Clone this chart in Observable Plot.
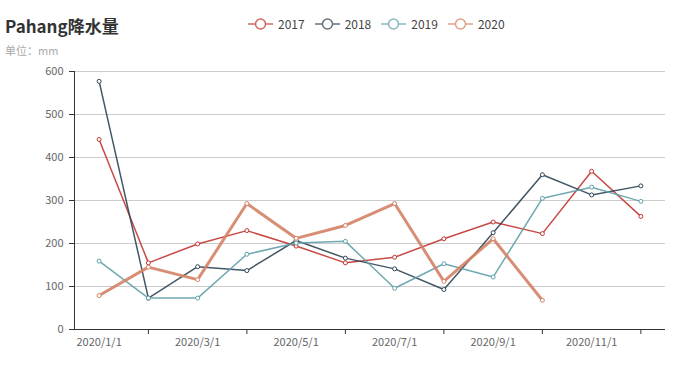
<!DOCTYPE html>
<html>
<head>
<meta charset="utf-8">
<script src="https://cdn.jsdelivr.net/npm/d3@7"></script>
<script src="https://cdn.jsdelivr.net/npm/@observablehq/plot@0.6"></script>
<style>
  body { margin: 0; background: #fff; font-family: "Noto Sans CJK SC", "Open Sans", sans-serif; }
  #wrap { position: relative; width: 688px; height: 366px; }
  #title { position: absolute; left: 5px; top: 13px; font-size: 17px; font-weight: bold; color: #333; }
  #sub { position: absolute; left: 5px; top: 42px; font-size: 11px; color: #aaa; }
  #legend { position: absolute; left: 248px; top: 15px; display: flex; font-size: 12px; color: #444; }
  #legend .item { display: flex; align-items: center; margin-right: 10px; }
  #legend svg { margin-right: 5px; opacity: 0.75; }
  #chart { position: absolute; left: 0; top: 0; }
</style>
</head>
<body>
<div id="wrap">
  <div id="chart"></div>
  <div id="title">Pahang降水量</div>
  <div id="sub">单位：mm</div>
  <div id="legend"></div>
</div>
<script>
const months = ["2020/1/1","2020/2/1","2020/3/1","2020/4/1","2020/5/1","2020/6/1","2020/7/1","2020/8/1","2020/9/1","2020/10/1","2020/11/1","2020/12/1"];
const seriesNames = ["2017","2018","2019","2020"];
const colors = ["#c23531","#2f4554","#61a0a8","#d48265"];
const widths = [1.5, 1.5, 1.5, 3];
const s2017 = [442, 155, 199, 230, 194, 155, 168, 211, 250, 223, 368, 263];
const s2018 = [577, 73, 146, 137, 207, 166, 141, 93, 225, 360, 313, 334];
const s2019 = [159, 73, 73, 175, 201, 205, 96, 153, 122, 305, 331, 298];
const s2020 = [79, 145, 116, 293, 212, 242, 293, 112, 211, 68, null, null];
const yTicks = [0, 100, 200, 300, 400, 500, 600];

const allSeries = [s2017, s2018, s2019, s2020];
const data = [];
allSeries.forEach((arr, si) => arr.forEach((v, i) => {
  if (v != null) data.push({series: seriesNames[si], i, month: months[i], value: v});
}));

const labelIdx = months.map((m, i) => i).filter(i => i % 2 === 0);
const tickIdx = months.map((m, i) => i).filter(i => i % 2 === 1);

const marks = [
  Plot.gridY(yTicks, {stroke: "#ccc", strokeOpacity: 1, strokeWidth: 1}),
  Plot.axisY(yTicks, {tickSize: 5, tickPadding: 6, stroke: "#333", color: "#666", fontSize: 11, label: null}),
  Plot.axisX(labelIdx, {tickSize: 0, tickPadding: 9, tickFormat: i => months[i], color: "#666", fontSize: 11, label: null}),
  Plot.axisX(tickIdx, {tickSize: 5, tickFormat: () => "", stroke: "#333", label: null}),
  Plot.ruleY([0], {stroke: "#333", strokeWidth: 1}),
  Plot.ruleX([-0.5], {stroke: "#333", strokeWidth: 1})
];
seriesNames.forEach((name, si) => {
  const d = data.filter(r => r.series === name);
  marks.push(Plot.line(d, {x: "i", y: "value", stroke: colors[si], strokeWidth: widths[si], strokeOpacity: 0.9}));
  marks.push(Plot.dot(d, {x: "i", y: "value", r: 2, stroke: colors[si], fill: "#fff", strokeWidth: 1}));
});

const chart = Plot.plot({
  width: 688,
  height: 366,
  marginTop: 71,
  marginBottom: 37,
  marginLeft: 74,
  marginRight: 23,
  style: {fontFamily: "'Noto Sans CJK SC', 'Open Sans', sans-serif", background: "transparent"},
  x: {type: "linear", domain: [-0.5, 11.5], axis: null},
  y: {domain: [0, 600], axis: null},
  marks
});
document.getElementById("chart").appendChild(chart);

const legend = document.getElementById("legend");
seriesNames.forEach((name, si) => {
  const item = document.createElement("div");
  item.className = "item";
  item.innerHTML = `<svg width="25" height="14"><line x1="0" x2="25" y1="7" y2="7" stroke="${colors[si]}" stroke-width="1.5"/><circle cx="12.5" cy="7" r="5" fill="#fff" stroke="${colors[si]}" stroke-width="1.5"/></svg><span>${name}</span>`;
  legend.appendChild(item);
});
</script>
</body>
</html>
